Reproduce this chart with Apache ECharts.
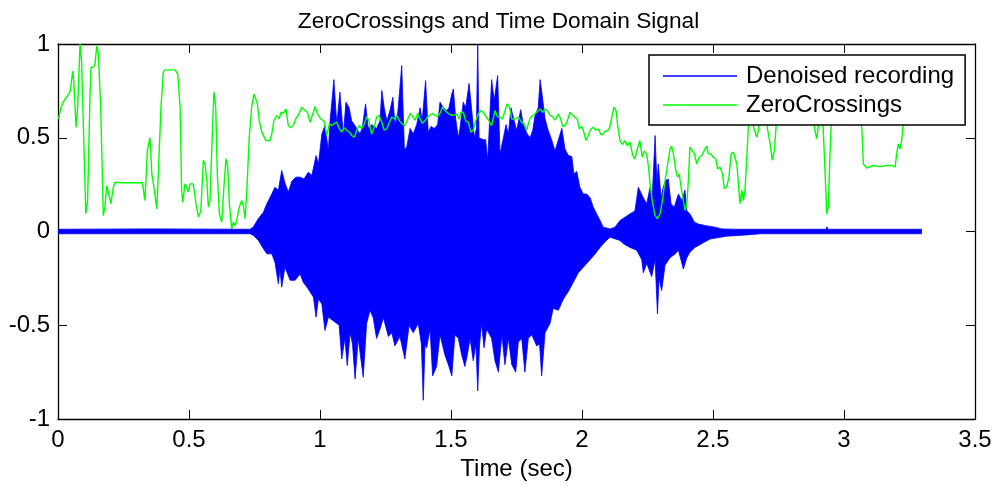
<!DOCTYPE html>
<html><head><meta charset="utf-8">
<script src="https://cdn.jsdelivr.net/npm/echarts@6/dist/echarts.min.js"></script>
<style>html,body{margin:0;padding:0;background:#fff}#c{width:997px;height:486px}</style>
</head><body><div id="c"></div>
<script>
const chartTitle = 'ZeroCrossings and Time Domain Signal';
const xName = 'Time (sec)';
const seriesNames = ['Denoised recording', 'ZeroCrossings'];
const xMin = 0, xMax = 3.5, xStep = 0.5;
const yMin = -1, yMax = 1, yStep = 0.5;

// ZeroCrossings curve (time in s, normalized value)
const zcT = [0.002,0.011,0.020,0.027,0.039,0.047,0.056,0.060,0.069,0.075,0.084,0.090,0.106,0.113,0.122,0.126,0.135,0.141,0.148,0.154,0.163,0.173,0.179,0.186,0.192,0.202,0.211,0.218,0.243,0.249,0.262,0.322,0.332,0.341,0.351,0.358,0.368,0.377,0.383,0.393,0.402,0.408,0.447,0.457,0.466,0.472,0.476,0.485,0.491,0.497,0.504,0.516,0.526,0.536,0.545,0.555,0.561,0.568,0.574,0.580,0.590,0.595,0.602,0.608,0.616,0.625,0.634,0.641,0.648,0.654,0.663,0.669,0.676,0.682,0.692,0.701,0.707,0.714,0.720,0.730,0.739,0.748,0.755,0.761,0.768,0.778,0.784,0.793,0.800,0.809,0.816,0.824,0.835,0.844,0.851,0.860,0.870,0.879,0.888,0.898,0.907,0.917,0.930,0.943,0.952,0.962,0.971,0.981,0.990,1.003,1.015,1.026,1.036,1.045,1.053,1.064,1.074,1.083,1.092,1.102,1.112,1.121,1.131,1.140,1.149,1.159,1.169,1.178,1.187,1.197,1.207,1.216,1.225,1.236,1.245,1.255,1.265,1.274,1.284,1.293,1.303,1.314,1.324,1.335,1.345,1.354,1.363,1.373,1.382,1.390,1.401,1.411,1.420,1.430,1.439,1.449,1.458,1.467,1.474,1.484,1.492,1.503,1.513,1.522,1.531,1.538,1.547,1.556,1.566,1.576,1.585,1.594,1.604,1.615,1.623,1.634,1.645,1.655,1.668,1.677,1.687,1.697,1.706,1.715,1.723,1.732,1.744,1.757,1.770,1.779,1.789,1.795,1.802,1.814,1.827,1.840,1.850,1.859,1.868,1.878,1.888,1.897,1.910,1.919,1.926,1.935,1.944,1.954,1.962,1.973,1.982,1.990,1.999,2.005,2.015,2.024,2.033,2.043,2.053,2.062,2.071,2.079,2.088,2.097,2.104,2.113,2.122,2.130,2.137,2.145,2.154,2.164,2.173,2.183,2.194,2.202,2.211,2.221,2.230,2.238,2.247,2.253,2.260,2.268,2.279,2.288,2.298,2.307,2.317,2.327,2.336,2.342,2.349,2.358,2.365,2.371,2.378,2.387,2.393,2.400,2.406,2.412,2.419,2.429,2.438,2.447,2.457,2.466,2.476,2.482,2.492,2.501,2.510,2.518,2.527,2.536,2.543,2.552,2.561,2.569,2.578,2.584,2.591,2.597,2.603,2.610,2.616,2.622,2.629,2.635,2.641,2.649,2.658,2.667,2.673,2.679,2.699,2.709,2.718,2.726,2.734,2.743,2.775,2.813,2.851,2.882,2.889,2.896,2.902,2.908,2.919,2.928,2.934,2.940,2.947,2.952,2.966,3.004,3.042,3.061,3.068,3.074,3.087,3.112,3.137,3.163,3.186,3.195,3.201,3.207,3.214,3.220,3.226,3.233];
const zcV = [0.6,0.66,0.69,0.69,0.73,0.75,0.855,0.805,0.556,0.66,1.0,0.91,0.095,0.165,0.716,0.876,0.876,0.89,0.99,0.95,0.66,0.085,0.13,0.245,0.236,0.148,0.236,0.263,0.26,0.263,0.26,0.26,0.165,0.432,0.5,0.308,0.219,0.12,0.308,0.663,0.85,0.862,0.862,0.84,0.663,0.219,0.156,0.254,0.236,0.21,0.254,0.254,0.156,0.076,0.11,0.38,0.36,0.27,0.13,0.165,0.556,0.743,0.663,0.308,0.094,0.05,0.254,0.388,0.343,0.148,0.014,0.05,0.032,0.059,0.13,0.165,0.14,0.068,0.2,0.503,0.663,0.734,0.734,0.681,0.592,0.53,0.52,0.485,0.48,0.485,0.52,0.592,0.62,0.6,0.636,0.63,0.654,0.565,0.553,0.565,0.6,0.62,0.663,0.645,0.636,0.583,0.62,0.667,0.63,0.6,0.59,0.512,0.574,0.565,0.574,0.583,0.548,0.53,0.553,0.54,0.53,0.512,0.503,0.54,0.565,0.548,0.574,0.613,0.59,0.52,0.556,0.61,0.62,0.583,0.54,0.548,0.583,0.61,0.6,0.62,0.59,0.574,0.565,0.6,0.63,0.613,0.594,0.63,0.6,0.578,0.59,0.613,0.62,0.63,0.62,0.613,0.63,0.663,0.654,0.636,0.627,0.62,0.62,0.627,0.6,0.636,0.636,0.59,0.583,0.53,0.54,0.59,0.627,0.645,0.636,0.613,0.59,0.565,0.645,0.613,0.61,0.6,0.645,0.681,0.663,0.6,0.6,0.61,0.583,0.574,0.54,0.574,0.605,0.62,0.636,0.654,0.636,0.654,0.645,0.62,0.613,0.594,0.627,0.6,0.56,0.565,0.59,0.636,0.623,0.61,0.6,0.548,0.56,0.54,0.485,0.512,0.545,0.556,0.54,0.548,0.52,0.516,0.536,0.536,0.548,0.605,0.663,0.645,0.556,0.485,0.464,0.485,0.458,0.476,0.405,0.388,0.44,0.485,0.396,0.43,0.414,0.352,0.254,0.165,0.085,0.068,0.094,0.165,0.272,0.36,0.44,0.455,0.414,0.325,0.29,0.308,0.236,0.165,0.112,0.148,0.272,0.45,0.458,0.414,0.36,0.396,0.405,0.43,0.455,0.414,0.414,0.396,0.388,0.334,0.343,0.308,0.228,0.236,0.29,0.414,0.423,0.414,0.36,0.254,0.148,0.219,0.165,0.219,0.396,0.556,0.62,0.6,0.54,0.503,0.54,0.6,0.62,0.54,0.467,0.38,0.43,0.6,0.7,0.68,0.7,0.62,0.54,0.494,0.56,0.65,0.6,0.31,0.094,0.13,0.43,0.6,0.7,0.75,0.7,0.62,0.55,0.36,0.338,0.352,0.346,0.352,0.352,0.343,0.414,0.467,0.44,0.485,0.57,0.6];

// Denoised recording: upper envelope (time in s, amplitude)
const sigUpT = [0,0.35,0.733,0.745,0.765,0.784,0.797,0.816,0.828,0.841,0.854,0.866,0.879,0.893,0.908,0.924,0.939,0.955,0.969,0.985,0.994,1.007,1.019,1.032,1.038,1.053,1.064,1.076,1.089,1.099,1.111,1.121,1.131,1.140,1.153,1.162,1.174,1.184,1.197,1.216,1.229,1.236,1.245,1.255,1.267,1.278,1.286,1.297,1.312,1.322,1.331,1.344,1.356,1.369,1.382,1.390,1.403,1.413,1.424,1.436,1.449,1.458,1.471,1.484,1.492,1.503,1.509,1.518,1.528,1.534,1.547,1.556,1.569,1.579,1.589,1.597,1.602,1.607,1.623,1.632,1.640,1.655,1.665,1.678,1.687,1.700,1.710,1.719,1.729,1.741,1.751,1.766,1.776,1.791,1.802,1.812,1.821,1.833,1.840,1.846,1.859,1.871,1.884,1.897,1.910,1.923,1.935,1.948,1.961,1.969,1.980,1.992,2.005,2.018,2.031,2.043,2.056,2.069,2.081,2.107,2.126,2.145,2.164,2.183,2.202,2.215,2.221,2.234,2.247,2.260,2.268,2.279,2.286,2.291,2.302,2.310,2.319,2.329,2.340,2.352,2.368,2.381,2.393,2.400,2.412,2.429,2.444,2.469,2.508,2.533,2.584,2.931,2.935,2.939,3.297];
const sigUpV = [0.012,0.014,0.012,0.023,0.07,0.103,0.148,0.2,0.236,0.22,0.325,0.26,0.21,0.27,0.29,0.29,0.28,0.316,0.3,0.405,0.36,0.52,0.565,0.43,0.583,0.81,0.574,0.743,0.512,0.69,0.66,0.59,0.57,0.55,0.52,0.56,0.681,0.55,0.57,0.55,0.59,0.752,0.66,0.59,0.645,0.716,0.57,0.636,0.885,0.44,0.45,0.55,0.52,0.57,0.66,0.59,0.805,0.53,0.56,0.55,0.57,0.69,0.66,0.645,0.66,0.734,0.76,0.6,0.5,0.55,0.69,0.66,0.79,0.65,0.5,0.55,1.0,0.5,0.49,0.49,0.38,0.81,0.7,0.832,0.414,0.5,0.57,0.52,0.66,0.59,0.54,0.65,0.57,0.52,0.5,0.54,0.62,0.66,0.81,0.75,0.6,0.54,0.49,0.43,0.49,0.55,0.44,0.405,0.4,0.308,0.32,0.236,0.2,0.2,0.18,0.13,0.094,0.059,0.023,0.014,0.023,0.059,0.076,0.094,0.11,0.236,0.236,0.18,0.148,0.236,0.18,0.512,0.254,0.36,0.18,0.236,0.272,0.28,0.148,0.13,0.2,0.165,0.22,0.11,0.094,0.05,0.04,0.032,0.023,0.014,0.012,0.012,0.025,0.012,0.012];

// Denoised recording: lower envelope (time in s, amplitude)
const sigLoT = [0,0.733,0.745,0.765,0.784,0.797,0.816,0.828,0.841,0.847,0.854,0.866,0.886,0.905,0.924,0.936,0.955,0.975,0.985,0.994,1.007,1.019,1.032,1.045,1.064,1.073,1.083,1.095,1.104,1.115,1.124,1.134,1.146,1.165,1.178,1.191,1.203,1.216,1.229,1.242,1.261,1.274,1.286,1.305,1.324,1.340,1.356,1.375,1.387,1.394,1.401,1.407,1.420,1.430,1.445,1.458,1.477,1.490,1.503,1.515,1.528,1.541,1.553,1.562,1.573,1.585,1.595,1.602,1.609,1.617,1.626,1.636,1.655,1.668,1.681,1.694,1.706,1.719,1.732,1.747,1.757,1.770,1.782,1.795,1.808,1.827,1.838,1.846,1.859,1.878,1.890,1.910,1.929,1.948,1.967,1.986,2.005,2.031,2.050,2.069,2.088,2.107,2.145,2.158,2.183,2.209,2.228,2.234,2.247,2.266,2.279,2.288,2.294,2.304,2.317,2.336,2.355,2.368,2.387,2.400,2.412,2.431,2.463,2.489,2.552,2.629,2.679,3.297];
const sigLoV = [-0.012,-0.012,-0.02,-0.048,-0.092,-0.119,-0.119,-0.164,-0.279,-0.2,-0.297,-0.19,-0.26,-0.26,-0.226,-0.27,-0.306,-0.35,-0.457,-0.36,-0.386,-0.528,-0.457,-0.47,-0.49,-0.5,-0.68,-0.57,-0.715,-0.54,-0.6,-0.786,-0.57,-0.777,-0.49,-0.42,-0.46,-0.57,-0.52,-0.46,-0.56,-0.54,-0.61,-0.56,-0.68,-0.5,-0.54,-0.49,-0.6,-0.9,-0.6,-0.62,-0.52,-0.77,-0.72,-0.55,-0.66,-0.71,-0.77,-0.55,-0.57,-0.66,-0.72,-0.66,-0.57,-0.69,-0.6,-0.85,-0.6,-0.49,-0.62,-0.52,-0.57,-0.69,-0.75,-0.55,-0.71,-0.57,-0.71,-0.75,-0.59,-0.57,-0.75,-0.57,-0.55,-0.61,-0.6,-0.77,-0.54,-0.49,-0.41,-0.42,-0.36,-0.32,-0.27,-0.22,-0.19,-0.15,-0.12,-0.085,-0.055,-0.03,-0.048,-0.065,-0.085,-0.1,-0.15,-0.22,-0.17,-0.24,-0.15,-0.44,-0.25,-0.315,-0.18,-0.14,-0.12,-0.1,-0.2,-0.14,-0.11,-0.085,-0.06,-0.04,-0.025,-0.018,-0.012,-0.012];

const FONT = '"Liberation Sans", Arial, Helvetica, sans-serif';
const zip = (a, b) => a.map((t, i) => [t, b[i]]);

const chart = echarts.init(document.getElementById('c'), null, {renderer: 'canvas'});
const axisCommon = {
  axisLine: {show: true, onZero: false, lineStyle: {color: '#000', width: 1.3}},
  axisTick: {show: true, inside: true, length: 9, lineStyle: {color: '#000', width: 1}},
  splitLine: {show: false}
};
chart.setOption({
  animation: false,
  backgroundColor: '#fff',
  title: {text: chartTitle, left: 'center', top: 5,
    textStyle: {fontFamily: FONT, fontSize: 22.7, fontWeight: 'normal', color: '#000'}},
  grid: {left: 58, right: 22, top: 44, bottom: 67, containLabel: false},
  legend: {
    data: seriesNames, orient: 'vertical', left: 649, top: 55,
    padding: [9, 11, 8, 14], itemGap: 5, itemWidth: 74, itemHeight: 1.3, icon: 'rect',
    backgroundColor: '#fff', borderColor: '#000', borderWidth: 1.5, borderRadius: 0,
    textStyle: {fontFamily: FONT, fontSize: 24, color: '#000', padding: [0, 0, 0, 4]},
    z: 10
  },
  xAxis: [
    Object.assign({type: 'value', min: xMin, max: xMax, interval: xStep, position: 'bottom',
      name: xName, nameLocation: 'middle', nameGap: 38,
      nameTextStyle: {fontFamily: FONT, fontSize: 24, color: '#000'},
      axisLabel: {fontFamily: FONT, fontSize: 24, color: '#000', margin: 9}}, axisCommon),
    Object.assign({type: 'value', min: xMin, max: xMax, interval: xStep, position: 'top',
      axisLabel: {show: false}}, axisCommon)
  ],
  yAxis: [
    Object.assign({type: 'value', min: yMin, max: yMax, interval: yStep, position: 'left',
      axisLabel: {fontFamily: FONT, fontSize: 24, color: '#000', margin: 8}}, axisCommon),
    Object.assign({type: 'value', min: yMin, max: yMax, interval: yStep, position: 'right',
      axisLabel: {show: false}}, axisCommon)
  ],
  series: [
    {name: seriesNames[0], type: 'line', data: zip(sigUpT, sigUpV), symbol: 'none',
      color: '#0000ff', lineStyle: {color: '#0000ff', width: 0.8},
      areaStyle: {color: '#0000ff', opacity: 1, origin: -0.006}, z: 2},
    {name: seriesNames[0], type: 'line', data: zip(sigLoT, sigLoV), symbol: 'none',
      color: '#0000ff', lineStyle: {color: '#0000ff', width: 0.8},
      areaStyle: {color: '#0000ff', opacity: 1, origin: 0.006}, z: 2},
    {name: seriesNames[1], type: 'line', data: zip(zcT, zcV), symbol: 'none',
      color: '#00ff00', lineStyle: {color: '#00ff00', width: 1.4}, z: 3}
  ]
});
</script></body></html>
